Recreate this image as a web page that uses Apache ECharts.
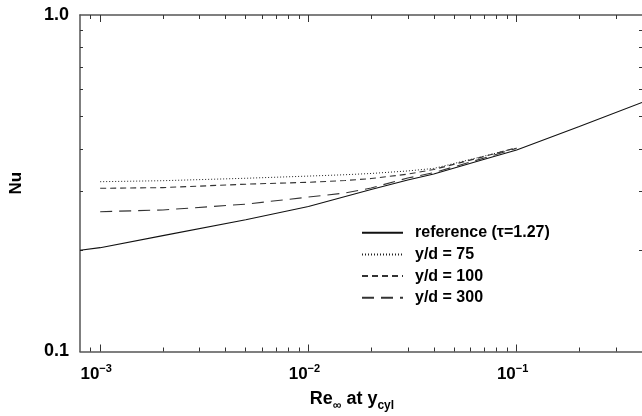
<!DOCTYPE html>
<html>
<head>
<meta charset="utf-8">
<script src="https://cdn.jsdelivr.net/npm/echarts@6/dist/echarts.min.js"></script>
<style>
html,body{margin:0;padding:0;background:#fff;}
#chart{width:642px;height:416px;}
</style>
</head>
<body>
<div id="chart"></div>
<script>
// ---- data ----
const seriesNames = ['reference (\u03c4=1.27)', 'y/d = 75', 'y/d = 100', 'y/d = 300'];
const reRef = [0.0008, 0.001, 0.002, 0.005, 0.01, 0.02, 0.03, 0.04, 0.07, 0.1, 0.2, 0.4];
const nuRef = [0.200, 0.2035, 0.221, 0.2464, 0.2698, 0.303, 0.3233, 0.337, 0.3725, 0.397, 0.4663, 0.5495];
const reYd = [0.001, 0.002, 0.005, 0.01, 0.015, 0.02, 0.03, 0.04, 0.07, 0.1];
const nu75 = [0.3196, 0.3218, 0.3272, 0.3321, 0.3352, 0.3381, 0.344, 0.350, 0.381, 0.4025];
const nu100 = [0.3055, 0.3069, 0.3142, 0.3183, 0.3222, 0.3266, 0.3365, 0.3474, 0.380, 0.4033];
const nu300 = [0.2603, 0.2634, 0.2741, 0.2877, 0.2958, 0.3061, 0.3278, 0.340, 0.376, 0.4015];
const xMajorTicks = [0.001, 0.01, 0.1];
const xMajorExp = ['\u22123', '\u22122', '\u22121'];
const xMinorTicks = [0.0009, 0.002, 0.003, 0.004, 0.005, 0.006, 0.007, 0.008, 0.009,
  0.02, 0.03, 0.04, 0.05, 0.06, 0.07, 0.08, 0.09, 0.2, 0.3];
const yLabelValues = [0.1, 1.0];
const yLabelTexts = ['0.1', '1.0'];
const yMinorTicks = [0.2, 0.3, 0.4, 0.5, 0.6, 0.7, 0.8, 0.9];
const xRange = [0.0008, 0.4];
const yRange = [0.1, 1.0];

const FONT = 'Liberation Sans';
const AXCOL = '#555';

function pairs(xs, ys) { return xs.map((x, i) => [x, ys[i]]); }

function xAxisDef(pos, major) {
  return {
    type: 'log', logBase: 10, position: pos, min: xRange[0], max: xRange[1],
    axisLine: { show: major, lineStyle: { color: AXCOL, width: 1.5 } },
    axisTick: { show: true, inside: true, length: major ? 7 : 4,
      customValues: major ? xMajorTicks : xMinorTicks,
      lineStyle: { color: '#333', width: 1 } },
    axisLabel: { show: major && pos === 'bottom', customValues: xMajorTicks, margin: 12,
      padding: [0, 8, 0, 0],
      formatter: function (v) {
        let idx = -1;
        xMajorTicks.forEach((t, i) => { if (Math.abs(t - v) / t < 1e-6) idx = i; });
        return idx < 0 ? '' : '{b|10}{s|' + xMajorExp[idx] + '}';
      },
      rich: {
        b: { fontFamily: FONT, fontWeight: 'bold', fontSize: 17, color: '#000', verticalAlign: 'bottom' },
        s: { fontFamily: FONT, fontWeight: 'bold', fontSize: 11, color: '#000', verticalAlign: 'bottom', padding: [0, 0, 8, 0] }
      }
    },
    splitLine: { show: false },
    minorTick: { show: false }
  };
}

const xAxes = [xAxisDef('bottom', true), xAxisDef('top', true), xAxisDef('bottom', false), xAxisDef('top', false)];
xAxes[0].name = '{b|Re}{s|\u221e}{b| at y}{s|cyl}';
xAxes[0].nameLocation = 'middle';
xAxes[0].nameGap = 39;
xAxes[0].nameTextStyle = {
  padding: [0, 18, 0, 0],
  rich: {
    b: { fontFamily: FONT, fontWeight: 'bold', fontSize: 18, color: '#000', verticalAlign: 'bottom', padding: [0, 0, 3, 0] },
    s: { fontFamily: FONT, fontWeight: 'bold', fontSize: 12, color: '#000', verticalAlign: 'bottom' }
  }
};

function yAxisDef(pos) {
  return {
    type: 'log', logBase: 10, position: pos, min: yRange[0], max: yRange[1],
    axisLine: { show: pos === 'left', lineStyle: { color: AXCOL, width: 1.5 } },
    axisTick: { show: true, inside: true, length: 3, customValues: yMinorTicks,
      lineStyle: { color: '#333', width: 1 } },
    axisLabel: { show: pos === 'left', customValues: yLabelValues, margin: 11,
      fontFamily: FONT, fontWeight: 'bold', fontSize: 18, color: '#000',
      formatter: function (v) {
        let idx = -1;
        yLabelValues.forEach((t, i) => { if (Math.abs(t - v) / t < 1e-6) idx = i; });
        return idx < 0 ? '' : yLabelTexts[idx];
      }
    },
    splitLine: { show: false },
    minorTick: { show: false }
  };
}
const yAxes = [yAxisDef('left'), yAxisDef('right')];
yAxes[0].name = 'Nu';
yAxes[0].nameLocation = 'middle';
yAxes[0].nameGap = 55;
yAxes[0].nameTextStyle = { fontFamily: FONT, fontWeight: 'bold', fontSize: 17, color: '#000' };

function lineSeries(name, data, dash, width, color) {
  return {
    name: name, type: 'line', xAxisIndex: 0, yAxisIndex: 0,
    data: data, symbol: 'none', showSymbol: false, smooth: false,
    lineStyle: { color: color, width: width, type: dash },
    itemStyle: { color: color },
    emphasis: { disabled: true }, animation: false
  };
}

const option = {
  animation: false,
  backgroundColor: '#fff',
  grid: { left: 80, right: 0, top: 15, bottom: 64.5, containLabel: false, outerBoundsMode: 'none' },
  xAxis: xAxes,
  yAxis: yAxes,
  legend: {
    orient: 'vertical', left: 361, top: 224.7, padding: 0,
    itemWidth: 41, itemHeight: 14, itemGap: 5.7,
    data: seriesNames,
    itemStyle: { opacity: 0 },
    textStyle: { fontFamily: FONT, fontWeight: 'bold', fontSize: 16, color: '#000', padding: [0, 0, 0, 7] },
    selectedMode: false
  },
  series: [
    lineSeries(seriesNames[0], pairs(reRef, nuRef), 'solid', 1.1, '#111'),
    lineSeries(seriesNames[1], pairs(reYd, nu75), [1, 2], 1, '#222'),
    lineSeries(seriesNames[2], pairs(reYd, nu100), [6, 4], 1.1, '#333'),
    lineSeries(seriesNames[3], pairs(reYd, nu300), [12, 7], 1.1, '#333')
  ]
};

const chart = echarts.init(document.getElementById('chart'), null, { renderer: 'canvas' });
chart.setOption(option);
</script>
</body>
</html>
